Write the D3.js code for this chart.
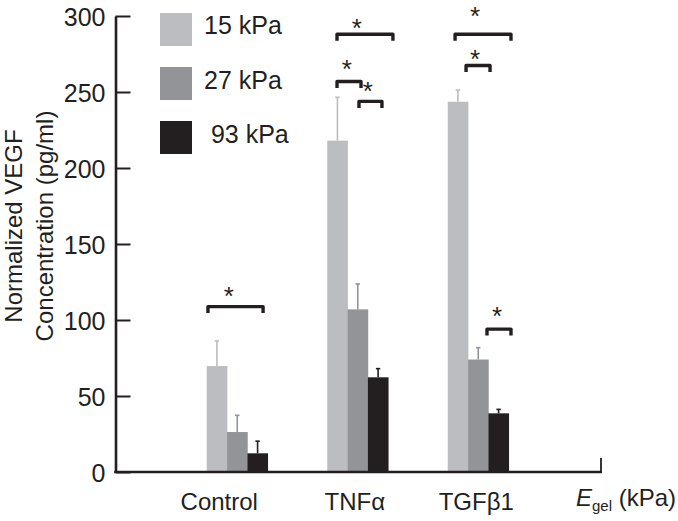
<!DOCTYPE html>
<html><head><meta charset="utf-8">
<script src="https://cdn.jsdelivr.net/npm/d3@7"></script>
<style>
body{margin:0;background:#fff}
svg{display:block}
text{font-family:"Liberation Sans",Arial,Helvetica,sans-serif;fill:#231f20}
</style>
</head><body>
<svg id="chart" width="678" height="521"></svg>
<script>
// ---- data ----
const categories = ["Control", "TNFα", "TGFβ1"];
const seriesLabels = ["15 kPa", "27 kPa", " 93 kPa"];
const values15 = [69.7, 218, 243.6];
const values27 = [26.3, 107, 74];
const values93 = [12.3, 62.3, 38.6];
const err15 = [16.5, 28.5, 7.7];
const err27 = [11, 16.7, 7.8];
const err93 = [8, 5.7, 2.6];
const yTicks = [0, 50, 100, 150, 200, 250, 300];
// significance brackets: group, span in bar units, level (data units), star position
const bracketGroup = ["Control", "TNFα", "TNFα", "TNFα", "TGFβ1", "TGFβ1", "TGFβ1"];
const bracketFrom  = [0.06, 0.48, 0.48, 1.56, 0.36, 0.9, 1.93];
const bracketTo    = [2.77, 3.23, 1.66, 2.69, 3.11, 2.08, 3.11];
const bracketLevel = [108.8, 288, 256.9, 243.8, 288, 267.4, 94];
const starAt       = [1.09, 1.46, 0.96, 2.0, 1.34, 1.34, 2.42];
const starLevel    = [119.6, 296, 269, 254.6, 304, 275.6, 106.6];

// ---- layout ----
const colors = ["#bcbdc0", "#929497", "#231f20"];
const ink = "#231f20";
const svg = d3.select("#chart");

const y = d3.scaleLinear().domain([0, 300]).range([472, 16]);
const x = d3.scaleBand().domain(categories).range([177, 538.5]).padding(0);
const groupWidth = 61;
const xs = d3.scaleBand().domain(d3.range(3)).range([0, groupWidth]);
const barW = xs.bandwidth();
const groupLeft = c => x(c) + x.bandwidth() / 2 - groupWidth / 2;

const series = [
  {vals: values15, errs: err15},
  {vals: values27, errs: err27},
  {vals: values93, errs: err93}
];

// bars
series.forEach((s, si) => {
  const g = svg.append("g");
  g.selectAll("rect").data(categories).join("rect")
    .attr("x", (c) => groupLeft(c) + xs(si))
    .attr("width", barW + 0.3)
    .attr("y", (c, i) => y(s.vals[i]))
    .attr("height", (c, i) => y(0) - y(s.vals[i]))
    .attr("fill", colors[si]);
  // error bars
  g.selectAll("line.err").data(categories).join("line")
    .attr("class", "err")
    .attr("x1", c => groupLeft(c) + xs(si) + barW / 2)
    .attr("x2", c => groupLeft(c) + xs(si) + barW / 2)
    .attr("y1", (c, i) => y(s.vals[i]))
    .attr("y2", (c, i) => y(s.vals[i] + s.errs[i]))
    .attr("stroke", colors[si]).attr("stroke-width", 1.6);
  g.selectAll("line.cap").data(categories).join("line")
    .attr("class", "cap")
    .attr("x1", c => groupLeft(c) + xs(si) + barW / 2 - 2.2)
    .attr("x2", c => groupLeft(c) + xs(si) + barW / 2 + 2.2)
    .attr("y1", (c, i) => y(s.vals[i] + s.errs[i]))
    .attr("y2", (c, i) => y(s.vals[i] + s.errs[i]))
    .attr("stroke", colors[si]).attr("stroke-width", 1.6);
});

// y axis
const yAxis = svg.append("g")
  .attr("transform", "translate(115.5,0)")
  .call(d3.axisLeft(y).tickValues(yTicks).tickSize(-15).tickSizeOuter(0).tickPadding(10));
yAxis.select(".domain").attr("stroke", ink).attr("stroke-width", 2.6);
yAxis.selectAll(".tick line").attr("stroke", ink).attr("stroke-width", 2);
yAxis.selectAll(".tick text").attr("font-size", 25).attr("fill", ink)
  .attr("font-family", "Liberation Sans, Arial, sans-serif").attr("dy", "0.36em");

// x axis line with end tick
svg.append("line").attr("x1", 114.2).attr("x2", 602).attr("y1", y(0)).attr("y2", y(0))
  .attr("stroke", ink).attr("stroke-width", 2.6);
svg.append("line").attr("x1", 601).attr("x2", 601).attr("y1", y(0)).attr("y2", y(0) - 14)
  .attr("stroke", ink).attr("stroke-width", 1.8);

// category labels
const labelDx = [-18, -3, -2];
svg.append("g").selectAll("text").data(categories).join("text")
  .attr("x", (c, i) => x(c) + x.bandwidth() / 2 + labelDx[i])
  .attr("y", 510)
  .attr("text-anchor", "middle")
  .attr("font-size", 24)
  .text(c => c);

// E_gel label
const eg = svg.append("text").attr("x", 676).attr("y", 506).attr("text-anchor", "end").attr("font-size", 24);
eg.append("tspan").attr("font-style", "italic").text("E");
eg.append("tspan").attr("font-size", 15).attr("dy", 5).text("gel");
eg.append("tspan").attr("dy", -5).attr("style", "white-space:pre").text(" (kPa)");

// y title
const yt = svg.append("g").attr("transform", "translate(0,226) rotate(-90)");
yt.append("text").attr("x", 0).attr("y", 21.5).attr("text-anchor", "middle").attr("font-size", 24).text("Normalized VEGF");
yt.append("text").attr("x", 0).attr("y", 52.5).attr("text-anchor", "middle").attr("font-size", 24).text("Concentration (pg/ml)");

// legend
const legend = svg.append("g");
legend.selectAll("rect").data(seriesLabels).join("rect")
  .attr("x", 160).attr("y", (d, i) => 13 + i * 54)
  .attr("width", 32).attr("height", 33)
  .attr("fill", (d, i) => colors[i]);
legend.selectAll("text").data(seriesLabels).join("text")
  .attr("x", 204).attr("y", (d, i) => 34 + i * 54.5)
  .attr("font-size", 25)
  .attr("style", "white-space:pre")
  .text(d => d);

// significance brackets
const bg = svg.append("g");
bg.selectAll("path").data(bracketGroup).join("path")
  .attr("d", (c, i) => {
    const x0 = groupLeft(c) + bracketFrom[i] * barW;
    const x1 = groupLeft(c) + bracketTo[i] * barW;
    const yy = y(bracketLevel[i]);
    return `M${x0},${yy + 6.5}V${yy}H${x1}V${yy + 6.5}`;
  })
  .attr("fill", "none").attr("stroke", ink).attr("stroke-width", 3.4)
  .attr("stroke-linejoin", "round");
bg.selectAll("text").data(bracketGroup).join("text")
  .attr("x", (c, i) => groupLeft(c) + starAt[i] * barW)
  .attr("y", (c, i) => y(starLevel[i]) + 15)
  .attr("text-anchor", "middle")
  .attr("font-size", 26)
  .text("*");
</script>
</body></html>
